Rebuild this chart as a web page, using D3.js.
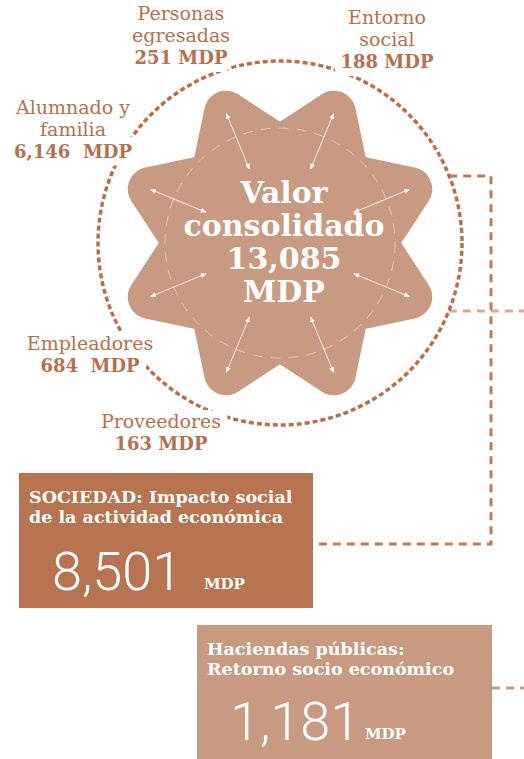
<!DOCTYPE html>
<html>
<head>
<meta charset="utf-8">
<script src="https://cdn.jsdelivr.net/npm/d3@7"></script>
<style>
  html, body { margin: 0; padding: 0; background: #fff; }
  svg { display: block; }
  text { font-family: "DejaVu Serif", serif; }
</style>
</head>
<body>
<svg id="chart" width="524" height="759"></svg>
<script>
// ---- data ----
const segNames = [["Personas", "egresadas"], ["Entorno", "social"], ["Alumnado y", "familia"], ["Empleadores"], ["Proveedores"]];
const segValues = [251, 188, 6146, 684, 163];
const segSpacer = [" ", " ", "  ", "  ", " "];
const totalLabel = ["Valor", "consolidado"];
const totalValue = 13085;
const boxTitles = [["SOCIEDAD: Impacto social", "de la actividad económica"], ["Haciendas públicas:", "Retorno socio económico"]];
const boxValues = [8501, 1181];
const unit = "MDP";

// ---- layout ----
const dark = "#b87350", light = "#c99a82";
const cx = 280, cy = 243, R = 182;
const labelPos = [[181, 20], [387, 24], [73, 114], [90, 350], [161, 428]];
const boxes = [{x: 19, y: 473, w: 294, h: 135, fill: dark},
               {x: 197, y: 625, w: 295, h: 134, fill: light}];
const fmt = d3.format(",");

const svg = d3.select("#chart");

// connectors
function edgeX(y) { return cx + Math.sqrt(R * R - (y - cy) * (y - cy)); }
const conns = [
  {pts: [[edgeX(176), 176], [491, 176], [491, 544], [boxes[0].x + boxes[0].w + 3, 544]], color: "#bd7c5b"},
  {pts: [[edgeX(311), 311], [524, 311]], color: "#d4ac97"},
  {pts: [[boxes[1].x + boxes[1].w, 688], [524, 688]], color: "#c99a82"}
];
svg.selectAll("path.conn").data(conns).join("path")
  .attr("class", "conn")
  .attr("d", d => d3.line()(d.pts))
  .attr("fill", "none")
  .attr("stroke", d => d.color)
  .attr("stroke-width", 3)
  .attr("stroke-dasharray", "8,6");

// outer dashed circle
svg.append("circle")
  .attr("cx", cx).attr("cy", cy).attr("r", R)
  .attr("fill", "none")
  .attr("stroke", "#b5704d")
  .attr("stroke-width", 3.5)
  .attr("stroke-dasharray", "5,3");

// star (rounded tips via fat round-joined stroke)
const starPts = d3.range(16).map(k => [k * Math.PI / 8 + Math.PI / 2, k % 2 === 0 ? 95 : 141]);
svg.append("path")
  .attr("transform", `translate(${cx},${cy})`)
  .attr("d", d3.lineRadial().curve(d3.curveLinearClosed)(starPts))
  .attr("fill", light)
  .attr("stroke", light)
  .attr("stroke-width", 44)
  .attr("stroke-linejoin", "round");

// inner dashed circle
svg.append("circle")
  .attr("cx", cx).attr("cy", cy).attr("r", 115)
  .attr("fill", "none")
  .attr("stroke", "#fff")
  .attr("stroke-opacity", 0.45)
  .attr("stroke-width", 1)
  .attr("stroke-dasharray", "10,8");

// double-headed arrows
const defs = svg.append("defs");
defs.append("marker")
  .attr("id", "ah")
  .attr("viewBox", "0 0 10 10")
  .attr("refX", 9).attr("refY", 5)
  .attr("markerWidth", 6).attr("markerHeight", 6)
  .attr("orient", "auto-start-reverse")
  .append("path")
  .attr("d", "M0,1 L10,5 L0,9 Z")
  .attr("fill", "#fff");

const arrowAngles = d3.range(8).map(k => (22.5 + k * 45) * Math.PI / 180);
svg.append("g").selectAll("line").data(arrowAngles).join("line")
  .attr("x1", a => cx + 80 * Math.cos(a))
  .attr("y1", a => cy + 80 * Math.sin(a))
  .attr("x2", a => cx + 140 * Math.cos(a))
  .attr("y2", a => cy + 140 * Math.sin(a))
  .attr("stroke", "#fff")
  .attr("stroke-opacity", 0.85)
  .attr("stroke-width", 1)
  .attr("marker-start", "url(#ah)")
  .attr("marker-end", "url(#ah)");

// centre text
const centreLines = totalLabel.concat([fmt(totalValue), unit]);
svg.append("text")
  .attr("text-anchor", "middle")
  .attr("fill", "#fff")
  .attr("font-weight", "bold")
  .attr("font-size", 30)
  .selectAll("tspan").data(centreLines).join("tspan")
  .attr("x", 284)
  .attr("y", (d, i) => 203 + i * 33)
  .text(d => d);

// segment labels: a white halo layer first (masks the dashed circle), then the text
function addLabels(layer, halo) {
  const labels = layer.selectAll("text").data(segNames).join("text")
    .attr("text-anchor", "middle")
    .attr("fill", halo ? "#fff" : "#b5704d")
    .style("white-space", "pre");
  if (halo) labels.attr("stroke", "#fff").attr("stroke-width", 16).attr("stroke-linejoin", "round");

  labels.each(function(lines, i) {
    const t = d3.select(this);
    const [x, y] = labelPos[i];
    lines.forEach((ln, j) => {
      t.append("tspan").attr("x", x).attr("y", y + j * 22)
        .attr("font-size", 19).text(ln);
    });
    t.append("tspan").attr("x", x).attr("y", y + lines.length * 22)
      .attr("font-size", 18).attr("font-weight", "bold")
      .text(fmt(segValues[i]) + segSpacer[i] + unit);
  });
}
addLabels(svg.append("g"), true);
addLabels(svg.append("g"), false);

// boxes
const bx = svg.append("g").selectAll("g").data(boxes).join("g");
bx.append("rect")
  .attr("x", d => d.x).attr("y", d => d.y)
  .attr("width", d => d.w).attr("height", d => d.h)
  .attr("fill", d => d.fill);

bx.append("text")
  .attr("fill", "#fff")
  .attr("font-weight", "bold")
  .attr("font-size", 17.5)
  .selectAll("tspan").data((d, i) => boxTitles[i].map(t => ({t, b: d}))).join("tspan")
  .attr("x", d => d.b.x + 10)
  .attr("y", (d, j) => d.b.y + 30 + j * 20)
  .text(d => d.t);

const bigX = [52, 230], bigY = [590, 740], unitX = [204, 365];
bx.append("text")
  .attr("x", (d, i) => bigX[i])
  .attr("y", (d, i) => bigY[i])
  .attr("fill", "#fff")
  .style("font-family", "Roboto, 'Open Sans', sans-serif")
  .style("font-weight", 300)
  .attr("font-size", 54)
  .text((d, i) => fmt(boxValues[i]));

bx.append("text")
  .attr("x", (d, i) => unitX[i])
  .attr("y", (d, i) => bigY[i] - 1)
  .attr("fill", "#fff")
  .attr("font-weight", "bold")
  .attr("font-size", 15)
  .text(unit);
</script>
</body>
</html>
